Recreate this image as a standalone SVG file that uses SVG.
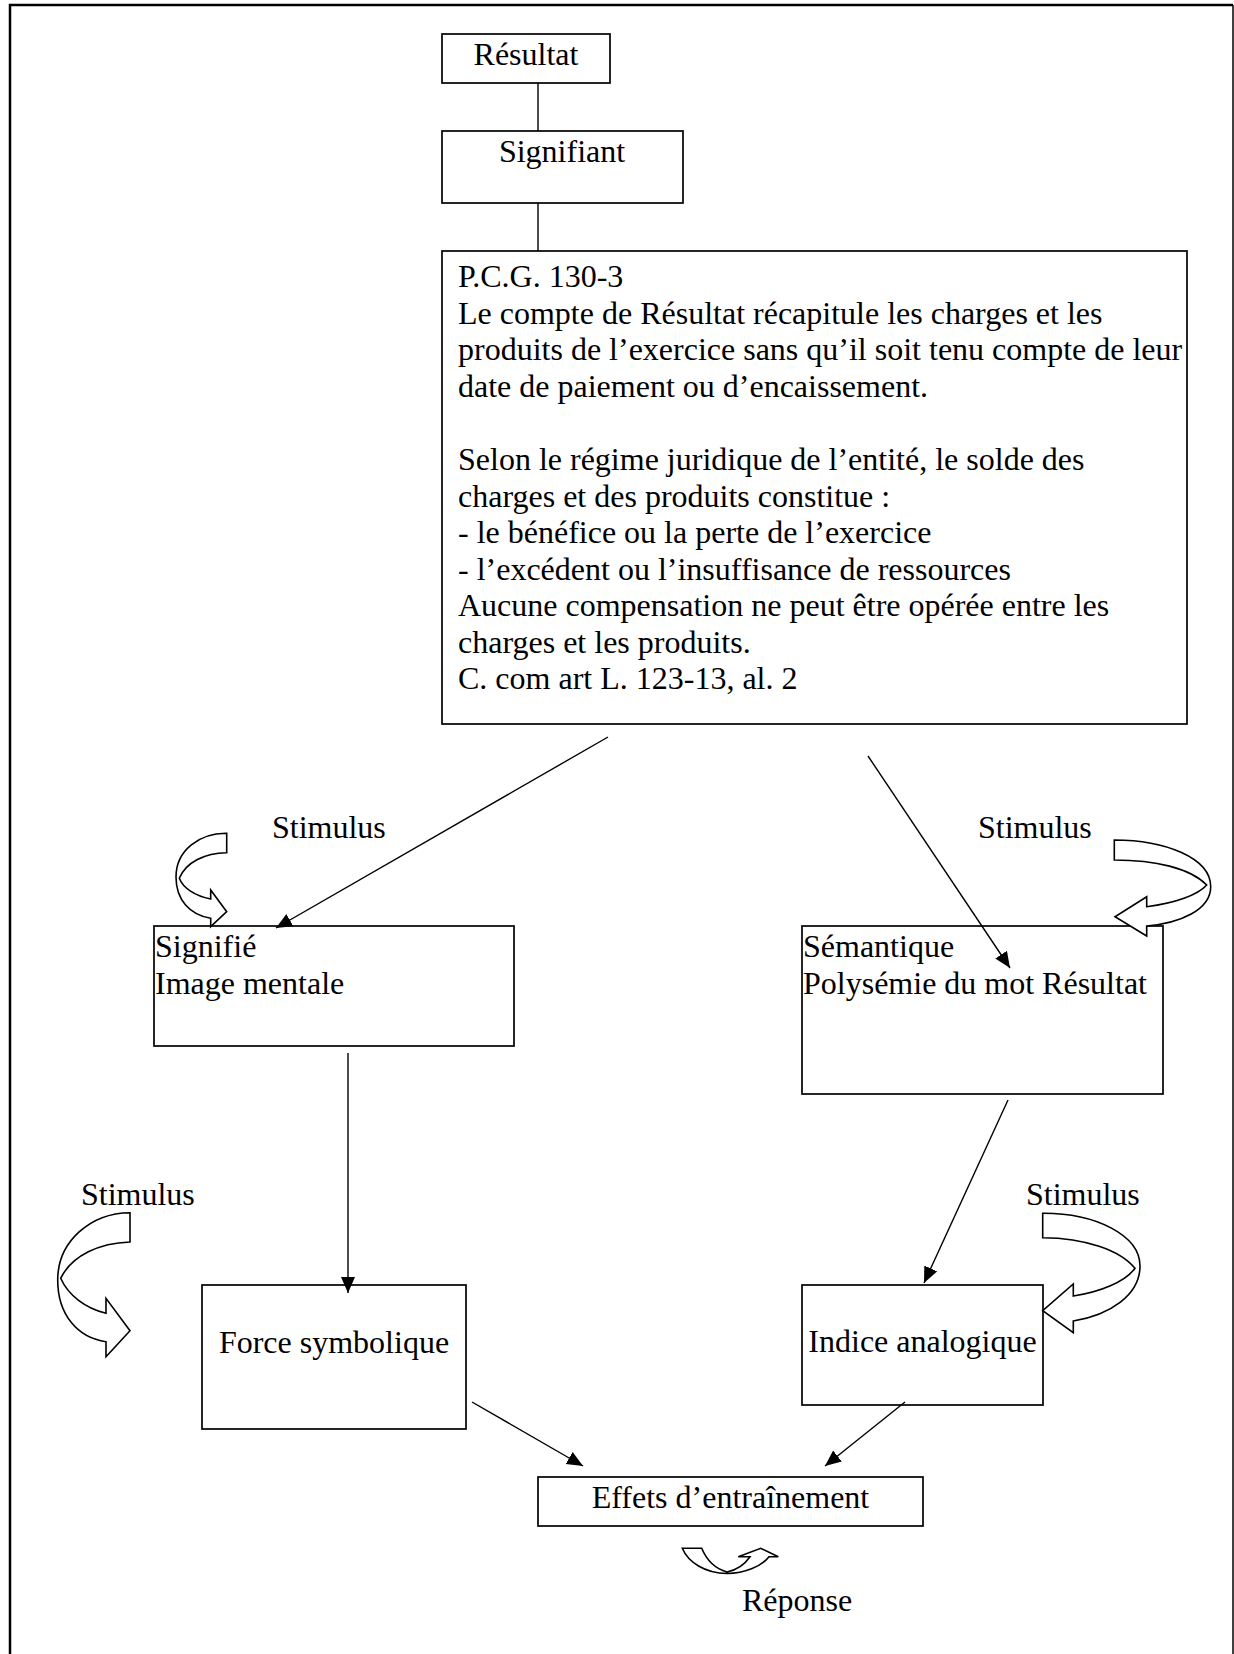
<svg xmlns="http://www.w3.org/2000/svg" width="1234" height="1654" viewBox="0 0 1234 1654">
<style>
text{font-family:"Liberation Serif","Times New Roman",serif;font-size:32px;fill:#000}
.box{fill:#fff;stroke:#000;stroke-width:1.7}
.c{text-anchor:middle}
.ln{stroke:#000;stroke-width:1.4;fill:none}
.cur{fill:#fff;stroke:#000;stroke-width:1.6;stroke-linejoin:miter}
</style>
<defs>
<marker id="ah" markerUnits="userSpaceOnUse" markerWidth="17" markerHeight="15" refX="16" refY="7" orient="auto">
<path d="M0,0 L16,7 L0,14 Z" fill="#000"/>
</marker>
</defs>
<rect width="1234" height="1654" fill="#fff"/>
<path d="M10,1654 L10,5 L1233,5" fill="none" stroke="#000" stroke-width="2.5"/>
<path d="M1233,5 L1233,1654" fill="none" stroke="#000" stroke-width="1.5"/>

<g id="resultat">
<rect class="box" x="442" y="34" width="168" height="49"/>
<text class="c" x="526" y="65">Résultat</text>
</g>
<g id="signifiant">
<rect class="box" x="442" y="131" width="241" height="72"/>
<text class="c" x="562" y="162">Signifiant</text>
</g>
<g id="pcg">
<rect class="box" x="442" y="251" width="745" height="473"/>
<text x="458" y="287">P.C.G. 130-3</text>
<text x="458" y="323.5">Le compte de Résultat récapitule les charges et les</text>
<text x="458" y="360">produits de l’exercice sans qu’il soit tenu compte de leur</text>
<text x="458" y="396.5">date de paiement ou d’encaissement.</text>
<text x="458" y="470">Selon le régime juridique de l’entité, le solde des</text>
<text x="458" y="506.5">charges et des produits constitue :</text>
<text x="458" y="543">- le bénéfice ou la perte de l’exercice</text>
<text x="458" y="579.5">- l’excédent ou l’insuffisance de ressources</text>
<text x="458" y="616">Aucune compensation ne peut être opérée entre les</text>
<text x="458" y="652.5">charges et les produits.</text>
<text x="458" y="689">C. com art L. 123-13, al. 2</text>
</g>
<g id="signifie">
<rect class="box" x="154" y="926" width="360" height="120"/>
<text x="155" y="957">Signifié</text>
<text x="155" y="993.5">Image mentale</text>
</g>
<g id="semantique">
<rect class="box" x="802" y="926" width="361" height="168"/>
<text x="803" y="957">Sémantique</text>
<text x="803" y="993.5">Polysémie du mot Résultat</text>
</g>
<g id="force">
<rect class="box" x="202" y="1285" width="264" height="144"/>
<text class="c" x="334" y="1353">Force symbolique</text>
</g>
<g id="indice">
<rect class="box" x="802" y="1285" width="241" height="120"/>
<text class="c" x="922.5" y="1352">Indice analogique</text>
</g>
<g id="effets">
<rect class="box" x="538" y="1477" width="385" height="49"/>
<text class="c" x="730.5" y="1508">Effets d’entraînement</text>
</g>

<g id="connectors">
<line class="ln" x1="538" y1="83" x2="538" y2="131"/>
<line class="ln" x1="538" y1="203" x2="538" y2="251"/>
<line class="ln" x1="608" y1="737" x2="276" y2="928" marker-end="url(#ah)"/>
<line class="ln" x1="868" y1="756" x2="1010" y2="968" marker-end="url(#ah)"/>
<line class="ln" x1="348" y1="1053" x2="348" y2="1293" marker-end="url(#ah)"/>
<line class="ln" x1="1008" y1="1100" x2="924" y2="1283" marker-end="url(#ah)"/>
<line class="ln" x1="472" y1="1402" x2="583" y2="1466" marker-end="url(#ah)"/>
<line class="ln" x1="905" y1="1402" x2="825" y2="1466" marker-end="url(#ah)"/>
</g>

<g id="stimulus1">
<text x="272" y="838">Stimulus</text>
<path class="cur" d="M226.7,833.3 C200,833 176,850 176,877 C176,900 190,915 210.7,918.3 L210.7,926.7 L226.7,911.7 L210.7,890 L210.7,899 C195,896 183,888 179.3,878.3 C186,862 205,853 226.7,852.7 Z"/>
</g>
<g id="stimulus2">
<text x="978" y="838">Stimulus</text>
<path class="cur" d="M1114.3,840 C1165,840 1210.7,858 1210.7,886.7 C1210.7,910 1180,923 1146.7,926 L1146.7,936 L1115,916.7 L1146.7,896.7 L1146.7,906.7 C1175,903 1198,895 1206.7,885 C1190,868 1155,860 1114.3,860 Z"/>
</g>
<g id="stimulus3">
<text x="81" y="1205">Stimulus</text>
<path class="cur" d="M130,1212.7 C90,1213 57.7,1242 57.7,1280 C57.7,1315 78,1338 106,1341.7 L106,1356.7 L130,1330.7 L106,1298.3 L106,1313.3 C85,1308 68,1295 60.7,1278.3 C72,1255 100,1243 130,1242 Z"/>
</g>
<g id="stimulus4">
<text x="1026" y="1205">Stimulus</text>
<path class="cur" d="M1042.7,1213.3 C1095,1213 1140,1235 1140,1266 C1140,1295 1110,1315 1073.3,1321 L1073.3,1332.7 L1042.7,1310.7 L1073.3,1284 L1073.3,1296 C1100,1292 1125,1282 1135,1268.3 C1120,1250 1085,1238 1042.7,1237.7 Z"/>
</g>
<g id="reponse">
<path class="cur" d="M682.3,1548.3 L701.7,1548.3 C707,1561 716,1569 727,1572 C736,1570 745,1564 750,1556.7 L738.3,1556.7 L760.7,1548.3 L778.3,1556.7 L769,1556.7 C762,1566 745,1573.5 727,1573.5 C705,1573.5 688,1562 682.3,1548.3 Z"/>
<text x="742" y="1611">Réponse</text>
</g>
</svg>
